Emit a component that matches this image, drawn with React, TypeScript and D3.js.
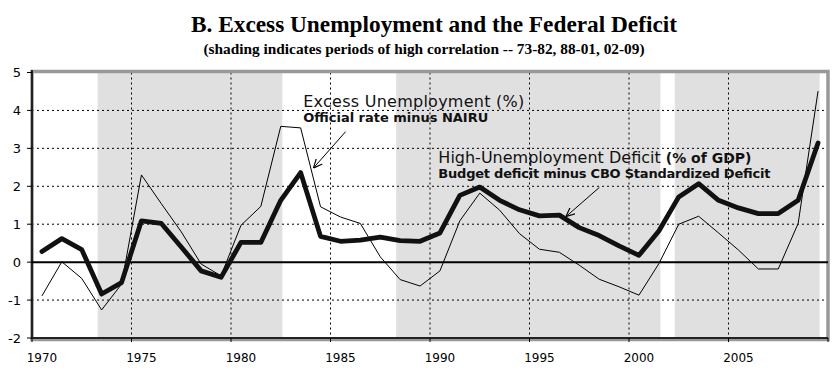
import React from 'react';
import * as d3 from 'd3';

const years = [
  1970, 1971, 1972, 1973, 1974, 1975, 1976, 1977, 1978, 1979,
  1980, 1981, 1982, 1983, 1984, 1985, 1986, 1987, 1988, 1989,
  1990, 1991, 1992, 1993, 1994, 1995, 1996, 1997, 1998, 1999,
  2000, 2001, 2002, 2003, 2004, 2005, 2006, 2007, 2008, 2009,
];

// High-Unemployment Deficit (% of GDP) — thick line
const deficit = [
  0.28, 0.62, 0.33, -0.84, -0.54, 1.09, 1.02, 0.40, -0.23, -0.40,
  0.52, 0.52, 1.63, 2.36, 0.68, 0.55, 0.58, 0.66, 0.57, 0.55,
  0.77, 1.76, 1.98, 1.63, 1.38, 1.22, 1.24, 0.91, 0.70, 0.43,
  0.18, 0.82, 1.72, 2.07, 1.63, 1.43, 1.28, 1.28, 1.63, 3.14,
];

// Excess Unemployment (%) — thin line
const excess = [
  -0.89, 0.01, -0.43, -1.26, -0.58, 2.30, 1.54, 0.80, -0.05, -0.36,
  0.97, 1.47, 3.58, 3.54, 1.46, 1.19, 1.02, 0.14, -0.46, -0.63,
  -0.23, 1.09, 1.82, 1.37, 0.75, 0.34, 0.26, -0.08, -0.45, -0.65,
  -0.87, -0.04, 1.00, 1.21, 0.77, 0.32, -0.18, -0.18, 1.02, 4.51,
];

const yTicks = [-2, -1, 0, 1, 2, 3, 4, 5];
const xTickYears = [1970, 1975, 1980, 1985, 1990, 1995, 2000, 2005];
const xGridYears = [1975, 1980, 1985, 1990, 1995, 2000, 2005];
const shadePeriods: [number, number][] = [
  [1973, 1982],
  [1988, 2001],
  [2002, 2009],
];

const title = 'B. Excess Unemployment and the Federal Deficit';
const subtitle = '(shading indicates periods of high correlation -- 73-82, 88-01, 02-09)';

const W = 840;
const H = 374;
const plot = { left: 32, right: 828, top: 72.5, bottom: 338 };

export default function App() {
  const x = d3.scaleLinear().domain([1970, 2010]).range([plot.left, plot.right]);
  const y = d3.scaleLinear().domain([-2, 5]).range([plot.bottom, plot.top]);
  const cx = (yr: number) => x(yr + 0.5);

  const line = d3
    .line<number>()
    .x((_, i) => cx(years[i]))
    .y((d) => y(d));

  const sans = 'DejaVu Sans, Verdana, sans-serif';
  const serif = 'Liberation Serif, Times New Roman, serif';

  return (
    <svg
      width={W}
      height={H}
      style={{ position: 'absolute', left: 0, top: 0, background: '#fff' }}
    >
      <defs>
        <marker
          id="arrow"
          viewBox="0 0 10 10"
          refX={10}
          refY={5}
          markerWidth={9}
          markerHeight={9}
          markerUnits="userSpaceOnUse"
          orient="auto"
        >
          <path d="M0,0.5 L10,5 L0,9.5" fill="none" stroke="#000" strokeWidth={1.3} />
        </marker>
      </defs>
      <rect x={0} y={0} width={W} height={H} fill="#fff" />

      {/* Title */}
      <text
        x={434}
        y={32}
        textAnchor="middle"
        fontFamily={serif}
        fontWeight="bold"
        fontSize={24}
        textLength={486}
        lengthAdjust="spacingAndGlyphs"
        fill="#000"
      >
        {title}
      </text>
      <text
        x={424}
        y={54}
        textAnchor="middle"
        fontFamily={serif}
        fontWeight="bold"
        fontSize={14}
        textLength={441}
        lengthAdjust="spacingAndGlyphs"
        fill="#000"
      >
        {subtitle}
      </text>

      {/* shading */}
      {shadePeriods.map(([a, b], i) => (
        <rect
          key={i}
          x={x(a + 0.3)}
          y={plot.top}
          width={x(b + 0.58) - x(a + 0.3)}
          height={plot.bottom - plot.top}
          fill="#e0e0e0"
        />
      ))}

      {/* horizontal grid */}
      {yTicks
        .filter((t) => t !== 0 && t !== -2 && t !== 5)
        .map((t) => (
          <line
            key={t}
            x1={plot.left}
            x2={plot.right}
            y1={y(t)}
            y2={y(t)}
            stroke="#000"
            strokeWidth={1}
            strokeDasharray="2 3"
          />
        ))}
      {/* vertical grid */}
      {xGridYears.map((t) => (
        <line
          key={t}
          x1={x(t)}
          x2={x(t)}
          y1={plot.top}
          y2={plot.bottom}
          stroke="#000"
          strokeWidth={1}
          strokeDasharray="2 3"
        />
      ))}

      {/* plot border */}
      <rect
        x={plot.left}
        y={plot.top - 1}
        width={plot.right - plot.left}
        height={plot.bottom - plot.top + 2.5}
        fill="none"
        stroke="#999"
        strokeWidth={3.5}
      />
      {/* axes */}
      <line x1={plot.left} x2={plot.left} y1={plot.top - 2.5} y2={plot.bottom + 1} stroke="#222" strokeWidth={2} />
      <line x1={plot.left} x2={plot.right} y1={plot.bottom} y2={plot.bottom} stroke="#222" strokeWidth={2} />
      {/* zero line */}
      <line x1={plot.left} x2={plot.right} y1={y(0)} y2={y(0)} stroke="#000" strokeWidth={2} />

      {/* y ticks */}
      {yTicks.map((t) => (
        <g key={t}>
          <line x1={plot.left - 5} x2={plot.left} y1={y(t)} y2={y(t)} stroke="#000" strokeWidth={1} />
          <text
            x={21}
            y={y(t)}
            dy="0.36em"
            textAnchor="end"
            fontFamily={sans}
            fontSize={13}
            fill="#000"
          >
            {t}
          </text>
        </g>
      ))}
      {/* x ticks */}
      {[...xTickYears, 2010].map((t) => (
        <line key={t} x1={x(t)} x2={x(t)} y1={plot.bottom} y2={plot.bottom + 4} stroke="#000" strokeWidth={1} />
      ))}
      {xTickYears.map((t) => (
        <text
          key={t}
          x={cx(t)}
          y={361.5}
          textAnchor="middle"
          fontFamily={sans}
          fontSize={12}
          fill="#000"
        >
          {t}
        </text>
      ))}

      {/* series */}
      <path d={line(excess) || ''} fill="none" stroke="#000" strokeWidth={1} strokeLinejoin="round" />
      <path d={line(deficit) || ''} fill="none" stroke="#111" strokeWidth={4.8} strokeLinejoin="round" strokeLinecap="round" />

      {/* annotations */}
      <text x={x(1983.63)} y={y(4.08)} fontFamily={sans} fontSize={16} fill="#111" textLength={221} lengthAdjust="spacing">
        Excess Unemployment (%)
      </text>
      <text x={x(1983.63)} y={y(3.69)} fontFamily={sans} fontSize={13} fontWeight="bold" fill="#111" textLength={185} lengthAdjust="spacing">
        Official rate minus NAIRU
      </text>
      <line
        x1={x(1985.76)}
        y1={y(3.44)}
        x2={x(1984.14)}
        y2={y(2.48)}
        stroke="#000"
        strokeWidth={1}
        markerEnd="url(#arrow)"
      />

      <text x={x(1990.42)} y={y(2.61)} fontFamily={sans} fill="#111">
        <tspan fontSize={16}>High-Unemployment Deficit </tspan>
        <tspan fontSize={14} fontWeight="bold">(% of GDP)</tspan>
      </text>
      <text x={x(1990.42)} y={y(2.21)} fontFamily={sans} fontSize={13} fontWeight="bold" fill="#111" textLength={332} lengthAdjust="spacing">
        Budget deficit minus CBO Standardized Deficit
      </text>
      <line
        x1={x(1998.51)}
        y1={y(1.97)}
        x2={x(1996.83)}
        y2={y(1.2)}
        stroke="#000"
        strokeWidth={1}
        markerEnd="url(#arrow)"
      />
    </svg>
  );
}
